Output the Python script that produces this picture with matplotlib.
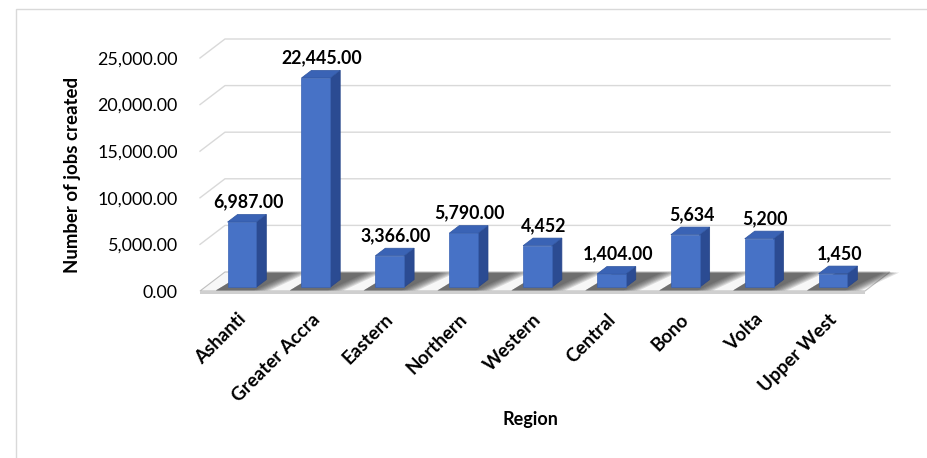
import matplotlib.pyplot as plt
from matplotlib.patches import Polygon, Rectangle

# jobs created per region
regions = ["Ashanti", "Greater Accra", "Eastern", "Northern", "Western",
           "Central", "Bono", "Volta", "Upper West"]
jobs = [6987, 22445, 3366, 5790, 4452, 1404, 5634, 5200, 1450]
label_decimals = [2, 2, 2, 2, 0, 2, 0, 0, 0]
yticks = [0, 5000, 10000, 15000, 20000, 25000]

FONT = "Lato"
DX = 0.338     # depth offset along x (category units)
DY = 2040      # depth offset along y (value units)
HALF_W = 0.195
D0, D1 = 0.2, 0.6

FRONT = "#4772c6"
SIDE = "#2b4b92"
TOP = "#3a63b5"


def pt(x, v, d):
    # project a point at depth d (0 = front, 1 = back wall)
    return (x + d * DX, v + d * DY)


fig = plt.figure(figsize=(9.28, 4.58), dpi=100)
fig.patches.append(Rectangle((16 / 928, -0.1), 1.2, (458 - 9) / 458 + 0.1,
                             transform=fig.transFigure, fill=False,
                             edgecolor="#d9d9d9", linewidth=1.0))

ax = fig.add_axes([200 / 928, (458 - 291) / 458, 665 / 928, 233 / 458])
ax.set_xlim(-0.5, len(regions) - 0.5)
ax.set_ylim(0, 25000)
for s in ax.spines.values():
    s.set_visible(False)

xmin, xmax = -0.5, len(regions) - 0.5

# back wall gridlines, with the slanted piece on the side wall
for v in yticks[1:]:
    xs = [xmin, xmin + DX, xmax + DX]
    ys = [v, v + DY, v + DY]
    ax.plot(xs, ys, color="#d9d9d9", lw=1.0, clip_on=False, zorder=1)

# floor slab
floor = [pt(xmin, 0, 0), pt(xmax, 0, 0), pt(xmax, 0, 1), pt(xmin, 0, 1)]
ax.add_patch(Polygon(floor, closed=True, facecolor="#f7f7f7",
                     edgecolor="#bfbfbf", lw=0.8, clip_on=False, zorder=2))
ax.add_patch(Polygon([pt(xmin, 0, 0), pt(xmax, 0, 0),
                      (xmax, -330), (xmin, -330)], closed=True,
                     facecolor="#cfcfcf", edgecolor="none",
                     clip_on=False, zorder=2))

# shadows on the floor, darkest next to the bar and fading to the right
for i, v in enumerate(jobs):
    for k in range(7):
        spread = 0.03 + 0.035 * k
        shade = [pt(i - HALF_W - 0.1, 0, 0.03),
                 pt(i + HALF_W + spread, 0, 0.03),
                 pt(i + HALF_W + spread + 0.2, 0, 0.97),
                 pt(i - HALF_W - 0.02, 0, 0.97)]
        ax.add_patch(Polygon(shade, closed=True, facecolor="#2a2a2a",
                             alpha=0.14, edgecolor="none",
                             clip_on=False, zorder=3))

# bars drawn as boxes
for i, v in enumerate(jobs):
    l, r = i - HALF_W, i + HALF_W
    side = [pt(r, 0, D0), pt(r, 0, D1), pt(r, v, D1), pt(r, v, D0)]
    top = [pt(l, v, D0), pt(r, v, D0), pt(r, v, D1), pt(l, v, D1)]
    front = [pt(l, 0, D0), pt(r, 0, D0), pt(r, v, D0), pt(l, v, D0)]
    ax.add_patch(Polygon(side, closed=True, facecolor=SIDE,
                         edgecolor="#27468a", lw=0.5, clip_on=False, zorder=4))
    ax.add_patch(Polygon(top, closed=True, facecolor=TOP,
                         edgecolor="#2f55a0", lw=0.5, clip_on=False, zorder=4))
    ax.add_patch(Polygon(front, closed=True, facecolor=FRONT,
                         edgecolor="#3a63b3", lw=0.5, clip_on=False, zorder=5))
    fmt = "{:,.%df}" % label_decimals[i]
    lx, ly = pt(i, v, D1)
    ax.annotate(fmt.format(v), (lx - 0.05, ly), xytext=(0, 3),
                textcoords="offset points", ha="center", va="bottom",
                fontsize=12.8, fontweight="bold", family=FONT, zorder=6)

ax.set_yticks(yticks)
ax.set_yticklabels(["{:,.2f}".format(t) for t in yticks],
                   fontsize=12.9, family=FONT)
ax.set_xticks(range(len(regions)))
ax.set_xticklabels(regions, rotation=45, ha="right", rotation_mode="anchor",
                   fontsize=13.5, fontweight="bold", family=FONT)
ax.tick_params(axis="y", length=0, pad=16)
ax.tick_params(axis="x", length=0, pad=14)

ax.set_ylabel("Number of jobs created", fontsize=13.4, fontweight="bold",
              family=FONT, labelpad=12)
fig.text(530 / 928, 1 - 420 / 458, "Region", ha="center", va="center",
         fontsize=13, fontweight="bold", family=FONT)

fig.savefig("out.png", dpi=100)
